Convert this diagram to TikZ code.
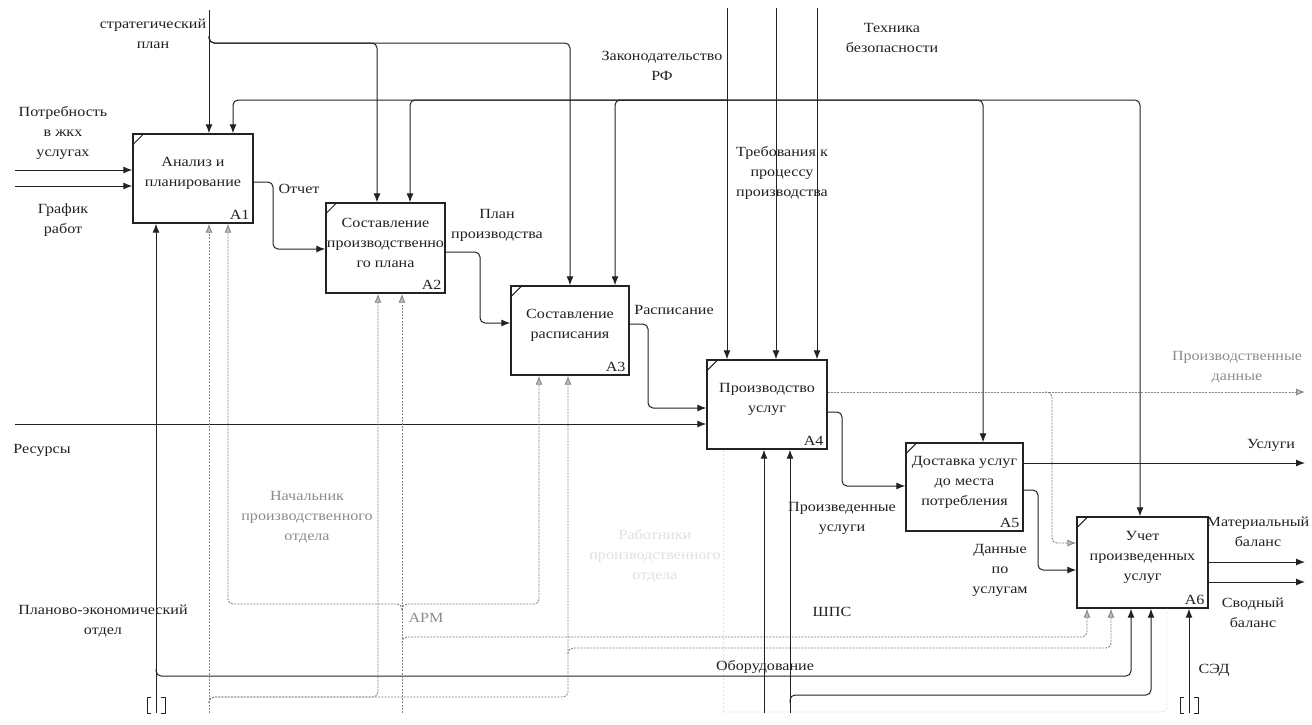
\documentclass[tikz,border=0pt]{standalone}
\usepackage{fontspec}
\setmainfont{Liberation Serif}[FakeStretch=1.15]
\usetikzlibrary{arrows.meta}
\definecolor{ink}{HTML}{222222}
\definecolor{gline}{HTML}{858585}
\definecolor{gtext}{HTML}{8C8C8C}
\definecolor{faint}{HTML}{E0E0E0}
\begin{document}
\begin{tikzpicture}[x=1pt,y=-1pt,
  every node/.style={font=\fontsize{14}{20}\selectfont, text=ink},
  lbl/.style={align=center, inner sep=0pt},
  box/.style={draw=ink, line width=1.4pt, rectangle, inner sep=0pt, fill=white},
  btxt/.style={align=center, yshift=5pt, inner sep=0pt},
  bnum/.style={anchor=south east, inner sep=4pt},
  flow/.style={draw=ink, line width=1pt, rounded corners=5pt, -{Latex[length=9pt,width=7pt]}},
  gflow/.style={draw=gline, line width=0.9pt, dash pattern=on 2pt off 1.2pt, rounded corners=5pt, -{Latex[length=9pt,width=7pt,fill=gline!55]}},
  faintl/.style={draw=faint, line width=0.8pt, dash pattern=on 2pt off 2pt, rounded corners=5pt},
  tunnel/.style={draw=ink, line width=0.9pt}
]
\useasboundingbox (0,0) rectangle (1312,724);
\fill[white] (0,0) rectangle (1312,724);

% boxes
\node[box, minimum width=120pt, minimum height=89pt, label={[btxt]center:{Анализ и\\планирование}}, label={[bnum]south east:A1}] (A1) at (193,178.5) {};
\node[box, minimum width=119pt, minimum height=90pt, label={[btxt]center:{Составление\\производственно\\го плана}}, label={[bnum]south east:A2}] (A2) at (385.5,248) {};
\node[box, minimum width=118pt, minimum height=89pt, label={[btxt]center:{Составление\\расписания}}, label={[bnum]south east:A3}] (A3) at (570,330.5) {};
\node[box, minimum width=120pt, minimum height=89pt, label={[btxt]center:{Производство\\услуг}}, label={[bnum]south east:A4}] (A4) at (767,404.5) {};
\node[box, minimum width=117pt, minimum height=88pt, label={[btxt]center:{Доставка услуг\\до места\\потребления}}, label={[bnum]south east:A5}] (A5) at (964.5,487) {};
\node[box, minimum width=131pt, minimum height=91pt, label={[btxt]center:{Учет\\произведенных\\услуг}}, label={[bnum]south east:A6}] (A6) at (1142.5,562.5) {};
\foreach \b in {A1,A2,A3,A4,A5,A6}
  \draw[ink, line width=0.9pt] ([yshift=-12pt]\b.north west) -- ([xshift=12pt]\b.north west);

% free ends and junctions
\coordinate (inP) at (15,170);
\coordinate (inG) at (15,186);
\coordinate (inR) at (15,424);
\coordinate (ctS) at (209,10);
\coordinate (ctZ) at (727,8);
\coordinate (ctT) at (776,8);
\coordinate (ctB) at (817,8);
\coordinate (jS) at (209,43);
\coordinate (jZ) at (727,100);
\coordinate (outPD) at (1305,392);
\coordinate (outU) at (1305,463);
\coordinate (outM) at (1305,562);
\coordinate (outSv) at (1305,582);
\coordinate (mPE) at (156,713);
\coordinate (mNach) at (209,713);
\coordinate (mARM) at (402,713);
\coordinate (mOb) at (764,713);
\coordinate (mSh) at (790,713);
\coordinate (mSED) at (1189,713);

% inputs
\draw[flow] (inP) -- (inP -| A1.west);
\draw[flow] (inG) -- (inG -| A1.west);
\draw[flow] (inR) -- (inR -| A4.west);

% controls
\draw[flow] (ctS) -- (ctS |- A1.north);
\draw[flow] (209,36) -- (jS) -- (377,43) -- (377,0 |- A2.north);
\draw[flow] (209,36) -- (jS) -- (570,43) -- (570,0 |- A3.north);
\draw[flow] (ctZ) -- (ctZ |- A4.north);
\draw[flow] (ctT) -- (ctT |- A4.north);
\draw[flow] (ctB) -- (ctB |- A4.north);
\draw[flow] (jZ) -- (233,100) -- (233,0 |- A1.north);
\draw[flow] (jZ) -- (410,100) -- (410,0 |- A2.north);
\draw[flow] (jZ) -- (615,100) -- (615,0 |- A3.north);
\draw[flow] (jZ) -- (983,100) -- (983,0 |- A5.north);
\draw[flow] (jZ) -- (1140,100) -- (1140,0 |- A6.north);

% outputs
\draw[flow] (A1.east |- 0,182) -- (273,182) -- (273,249) -- (A2.west |- 0,249);
\draw[flow] (A2.east |- 0,252) -- (480,252) -- (480,323) -- (A3.west |- 0,323);
\draw[flow] (A3.east |- 0,324) -- (648,324) -- (648,408) -- (A4.west |- 0,408);
\draw[flow] (A4.east |- 0,412) -- (842,412) -- (842,486) -- (A5.west |- 0,486);
\draw[gflow] (A4.east |- 0,392) -- (outPD);
\draw[gflow] (1045,392) -- (1052,392) -- (1052,543) -- (A6.west |- 0,543);
\draw[flow] (A5.east |- 0,463) -- (outU);
\draw[flow] (A5.east |- 0,490) -- (1038,490) -- (1038,570) -- (A6.west |- 0,570);
\draw[flow] (A6.east |- 0,562) -- (outM);
\draw[flow] (A6.east |- 0,582) -- (outSv);

% faint hidden lines
\draw[faintl] (723,712) -- (723,0 |- A4.south);
\draw[faintl] (723,712) -- (1167,712) -- (1167,0 |- A6.south);

% mechanisms
\draw[flow] (mPE) -- (mPE |- A1.south);
\draw[flow] (156,669) -- (156,676) -- (1131,676) -- (1131,0 |- A6.south);
\draw[gflow] (mNach) -- (mNach |- A1.south);
\draw[gflow] (209,703) -- (209,697) -- (378,697) -- (378,0 |- A2.south);
\draw[gflow] (209,703) -- (209,697) -- (568,697) -- (568,0 |- A3.south);
\draw[gflow] (568,654) -- (568,648) -- (1111,648) -- (1111,0 |- A6.south);
\draw[gflow] (mARM) -- (mARM |- A2.south);
\draw[gflow] (402,610) -- (402,604) -- (228,604) -- (228,0 |- A1.south);
\draw[gflow] (402,610) -- (402,604) -- (539,604) -- (539,0 |- A3.south);
\draw[gflow] (402,643) -- (402,637) -- (1087,637) -- (1087,0 |- A6.south);
\draw[flow] (mOb) -- (mOb |- A4.south);
\draw[flow] (mSh) -- (mSh |- A4.south);
\draw[flow] (790,703) -- (790,695) -- (1151,695) -- (1151,0 |- A6.south);
\draw[flow] (mSED) -- (mSED |- A6.south);

% tunnels
\draw[tunnel] (151,697) -- (147,697) -- (147,713) -- (151,713);
\draw[tunnel] (161,697) -- (165,697) -- (165,713) -- (161,713);
\draw[tunnel] (1184,697) -- (1180,697) -- (1180,713) -- (1184,713);
\draw[tunnel] (1194,697) -- (1198,697) -- (1198,713) -- (1194,713);

% labels
\node[lbl] (tS) at (153,34) {стратегический\\план};
\node[lbl] (tZ) at (662,66) {Законодательство\\РФ};
\node[lbl] (tT) at (782,173) {Требования к\\процессу\\производства};
\node[lbl] (tB) at (892,38) {Техника\\безопасности};
\node[lbl] (tP) at (63,133) {Потребность\\в жкх\\услугах};
\node[lbl] (tG) at (63,220) {График\\работ};
\node[lbl] (tO) at (299,189) {Отчет};
\node[lbl] (tPl) at (497,225) {План\\производства};
\node[lbl] (tR) at (674,310) {Расписание};
\node[lbl] (tRes) at (42,450) {Ресурсы};
\node[lbl,text=gtext] (tPD) at (1237,367) {Производственные\\данные};
\node[lbl] (tPU) at (842,518) {Произведенные\\услуги};
\node[lbl] (tU) at (1271,445) {Услуги};
\node[lbl] (tD) at (1000,570) {Данные\\по\\услугам};
\node[lbl] (tM) at (1258,532) {Материальный\\баланс};
\node[lbl] (tSv) at (1253,613) {Сводный\\баланс};
\node[lbl] (tSED) at (1214,670) {СЭД};
\node[lbl] (tSh) at (832,612) {ШПС};
\node[lbl] (tOb) at (765,667) {Оборудование};
\node[lbl,text=gtext] (tARM) at (426,618) {АРМ};
\node[lbl,text=gtext] (tN) at (307,517) {Начальник\\производственного\\отдела};
\node[lbl] (tPE) at (103,621) {Планово-экономический\\отдел};
\node[lbl,text=faint] (tW) at (655,556) {Работники\\производственного\\отдела};
\end{tikzpicture}
\end{document}
